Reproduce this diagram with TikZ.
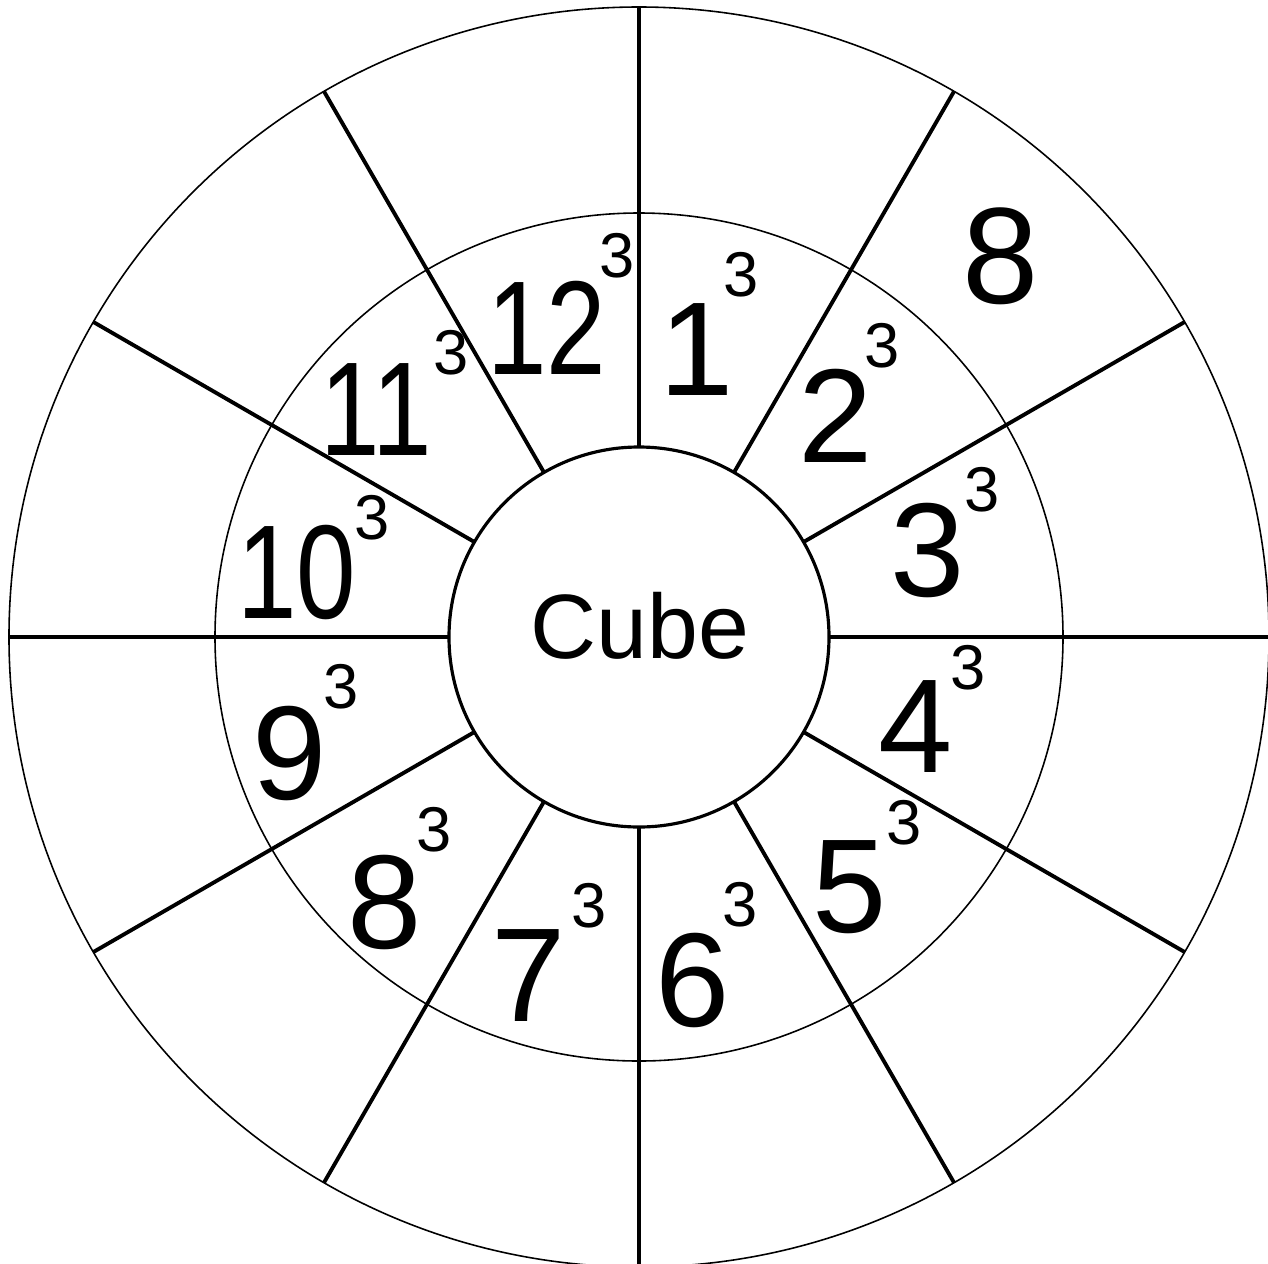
\documentclass[tikz,border=0pt]{standalone}
\usepackage{fontspec}
\setmainfont{Liberation Sans}
\begin{document}
\begin{tikzpicture}[x=0.01cm, y=0.01cm,
    ring/.style={line width=0.45pt},
    spoke/.style={line width=1.1pt},
    base/.style={inner sep=0pt, font=\fontsize{38}{40}\selectfont},
    twodigit/.style={base, xscale=0.8},
    power/.style={inner sep=0pt, font=\fontsize{18}{20}\selectfont}]
    \useasboundingbox (-639,-626) rectangle (629,637);
    \draw[ring] (0,0) circle (630);
    \draw[ring] (0,0) circle (424);
    \foreach \a in {0,30,...,330}
        \draw[spoke] (\a:190) -- (\a:630);
    \draw[line width=0.9pt, fill=white] (0,0) circle (190);
    \node[inner sep=0pt, font=\fontsize{26}{30}\selectfont] (cube) at (1,11) {Cube};
    % bases and exponents
    \foreach \n/\x/\y/\sx/\sy in {1/58/287/102/362, 9/-349/-116/-298/-50, 8/-254/-265/-205/-193,
            7/-110/-339/-50/-269, 6/54/-343/101/-268, 5/211/-250/265/-186,
            4/277/-90/329/-31, 3/289/87/343/147, 2/197/221/243/291} {
        \node[base] (num\n) at (\x,\y) {\n};
        \node[power] (exp\n) at (\sx,\sy) {3};
    }
    \foreach \n/\x/\y/\sx/\sy in {12/-92/309/-22/381, 11/-263/227/-188/284, 10/-342/65/-267/119} {
        \node[twodigit] (num\n) at (\x,\y) {\n};
        \node[power] (exp\n) at (\sx,\sy) {3};
    }
    \node[inner sep=0pt, font=\fontsize{39}{42}\selectfont] (ans2) at (362,381) {8};
\end{tikzpicture}
\end{document}
